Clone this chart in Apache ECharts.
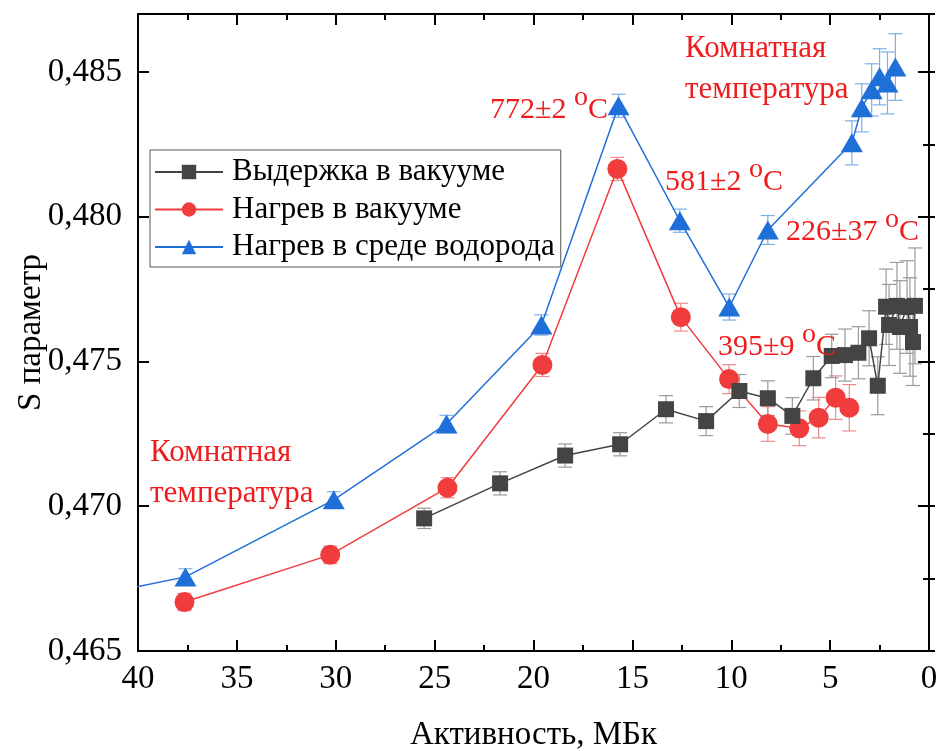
<!DOCTYPE html>
<html>
<head>
<meta charset="utf-8">
<script src="https://cdn.jsdelivr.net/npm/echarts@6/dist/echarts.min.js"></script>
<style>
html,body{margin:0;padding:0;background:#fff;}
#chart{width:939px;height:751px;}
</style>
</head>
<body>
<div id="chart"></div>
<script>
// Выдержка в вакууме
const blackX = [25.53, 21.69, 18.4, 15.62, 13.3, 11.27, 9.59, 8.15, 6.91, 5.85, 4.92, 4.25, 3.57, 3.03, 2.59, 2.17, 2.02, 1.62, 1.47, 1.11, 0.96, 0.81, 0.71];
const blackY = [0.46958, 0.47079, 0.47175, 0.47214, 0.47335, 0.47294, 0.47398, 0.47373, 0.47312, 0.47442, 0.47519, 0.47522, 0.4753, 0.4758, 0.47416, 0.47689, 0.47626, 0.47692, 0.47619, 0.47688, 0.47619, 0.47567, 0.47692];
const blackErr = [0.00035, 0.0004, 0.0004, 0.0004, 0.00047, 0.0005, 0.00057, 0.0006, 0.00063, 0.00075, 0.00075, 0.0009, 0.0009, 0.00095, 0.001, 0.0013, 0.0014, 0.0015, 0.0016, 0.0016, 0.0017, 0.0015, 0.002];
// Нагрев в вакууме
const redX = [37.65, 30.28, 24.35, 19.55, 15.76, 12.55, 10.11, 8.15, 6.56, 5.58, 4.72, 4.03];
const redY = [0.46669, 0.46832, 0.47064, 0.47488, 0.48165, 0.47653, 0.47439, 0.47284, 0.47269, 0.47306, 0.47375, 0.4734];
const redErr = [0.0003, 0.0003, 0.00035, 0.0004, 0.0004, 0.00048, 0.0005, 0.0006, 0.0006, 0.0007, 0.00075, 0.0008];
// Нагрев в среде водорода (первая точка за краем оси)
const blueX = [42.0, 37.6, 30.1, 24.4, 19.6, 15.7, 12.6, 10.1, 8.15, 3.9, 3.4, 2.9, 2.5, 2.1, 1.7];
const blueY = [0.46695, 0.46756, 0.47022, 0.47284, 0.47626, 0.48383, 0.47986, 0.47688, 0.47954, 0.48255, 0.48376, 0.48438, 0.48483, 0.48462, 0.48517];
const blueErr = [0, 0.00028, 0.00028, 0.0003, 0.00035, 0.0004, 0.0004, 0.00045, 0.0005, 0.00076, 0.00083, 0.0009, 0.00097, 0.00107, 0.00115];

const names = ['Выдержка в вакууме', 'Нагрев в вакууме', 'Нагрев в среде водорода'];
const xTicks = [0, 5, 10, 15, 20, 25, 30, 35, 40];
const yTicks = [0.465, 0.470, 0.475, 0.480, 0.485];

const FONT = '"Liberation Serif", "DejaVu Serif", serif';
const RED = '#ee1c1c';

function pts(xs, ys){ return xs.map((x,i)=>[x, ys[i]]); }
function errs(xs, ys, es){
    let out=[];
    xs.forEach((x,i)=>{ if(es[i]>0) out.push([x, ys[i]-es[i], ys[i]+es[i]]); });
    return out;
}
function errSeries(data, color, z){
    return {
        type:'custom',
        xAxisIndex:0, yAxisIndex:0,
        z:z,
        silent:true,
        clip:true,
        data:data,
        renderItem(params, api){
            const lo = api.coord([api.value(0), api.value(1)]);
            const hi = api.coord([api.value(0), api.value(2)]);
            const w = 7;
            const st = {stroke:color, lineWidth:1.2};
            return {type:'group', children:[
                {type:'line', shape:{x1:lo[0],y1:lo[1],x2:hi[0],y2:hi[1]}, style:st},
                {type:'line', shape:{x1:lo[0]-w,y1:lo[1],x2:lo[0]+w,y2:lo[1]}, style:st},
                {type:'line', shape:{x1:hi[0]-w,y1:hi[1],x2:hi[0]+w,y2:hi[1]}, style:st}
            ]};
        }
    };
}

const axisLine = {show:true, onZero:false, lineStyle:{color:'#000', width:2}};

function xAx(pos, labels){
    return {
        type:'value', position:pos, min:0, max:40, interval:5, inverse:true,
        axisLine:axisLine,
        axisTick:{show:true, inside:true, length:11, lineStyle:{color:'#000', width:2}},
        minorTick:{show:true, splitNumber:2, length:6, lineStyle:{color:'#000', width:2}},
        splitLine:{show:false}, minorSplitLine:{show:false},
        axisLabel:{show:labels, color:'#000', fontFamily:FONT, fontSize:33, margin:12,
            formatter:v=>xTicks.indexOf(v)>=0?String(v):''},
        name: labels?'Активность, МБк':'', nameLocation:'middle', nameGap:68, nameMoveOverlap:false,
        nameTextStyle:{color:'#000', fontFamily:FONT, fontSize:33}
    };
}
function yAx(pos, major, labels){
    return {
        type:'value', position:pos, min:0.465, max:0.487, interval:major?0.005:0.0025,
        axisLine: major?axisLine:{show:false},
        axisTick:{show:true, inside:true, length:major?11:6, lineStyle:{color:'#000', width:2}},
        splitLine:{show:false},
        axisLabel:{show:labels, color:'#000', fontFamily:FONT, fontSize:33, margin:16,
            formatter:v=>{
                const ok = yTicks.some(t=>Math.abs(t-v)<1e-7);
                return ok ? v.toFixed(3).replace('.', ',') : '';
            }},
        name: labels?'S параметр':'', nameLocation:'middle', nameGap:90, nameMoveOverlap:false,
        nameTextStyle:{color:'#000', fontFamily:FONT, fontSize:33}
    };
}

function tempText(left, top, value){
    return {type:'text', left:left, top:top, z:50, style:{
        text:value+' {o|o}C', fill:RED, font:'30px '+FONT,
        rich:{o:{fill:RED, fontFamily:FONT, fontSize:28, padding:[0,0,24,0]}}
    }};
}

const chart = echarts.init(document.getElementById('chart'));
const option = {
    backgroundColor:'#fff',
    animation:false,
    grid:{left:138, right:10, top:14, bottom:100, containLabel:false, outerBoundsMode:'none'},
    xAxis:[xAx('bottom', true), xAx('top', false)],
    yAxis:[yAx('left', true, true), yAx('left', false, false), yAx('right', true, false), yAx('right', false, false)],
    legend:{
        data:names,
        orient:'vertical',
        left:150, top:150,
        itemWidth:68, itemHeight:18,
        itemGap:1.5,
        padding:[4,6,2,4],
        borderColor:'#555', borderWidth:1,
        backgroundColor:'#fff',
        textStyle:{color:'#000', fontFamily:FONT, fontSize:31, lineHeight:36, padding:[0,0,0,4]}
    },
    graphic:[
        tempText(490, 84, '772±2'),
        tempText(665, 156, '581±2'),
        tempText(786, 206, '226±37'),
        tempText(718, 321, '395±9'),
        {type:'text', left:685, top:28, z:50, style:{text:'Комнатная\nтемпература', fill:RED, font:'31px '+FONT, lineHeight:41}},
        {type:'text', left:150, top:432, z:50, style:{text:'Комнатная\nтемпература', fill:RED, font:'31px '+FONT, lineHeight:41}}
    ],
    series:[
        errSeries(errs(redX, redY, redErr), '#f08a8a', 2),
        errSeries(errs(blackX, blackY, blackErr), '#9a9a9a', 3),
        errSeries(errs(blueX, blueY, blueErr), '#7eaee8', 4),
        {
            name:names[1], type:'line', data:pts(redX, redY), z:5, clip:true,
            symbol:'circle', symbolSize:20,
            lineStyle:{color:'#f03c3c', width:1.5},
            itemStyle:{color:'#f03c3c'}
        },
        {
            name:names[0], type:'line', data:pts(blackX, blackY), z:6, clip:true,
            symbol:'rect', symbolSize:16,
            lineStyle:{color:'#444', width:1.5},
            itemStyle:{color:'#444'}
        },
        {
            name:names[2], type:'line', data:pts(blueX, blueY), z:7, clip:true,
            symbol:'triangle', symbolSize:[22,19],
            lineStyle:{color:'#1f6fd8', width:1.5},
            itemStyle:{color:'#1f6fd8'}
        }
    ]
};
chart.setOption(option);
</script>
</body>
</html>
